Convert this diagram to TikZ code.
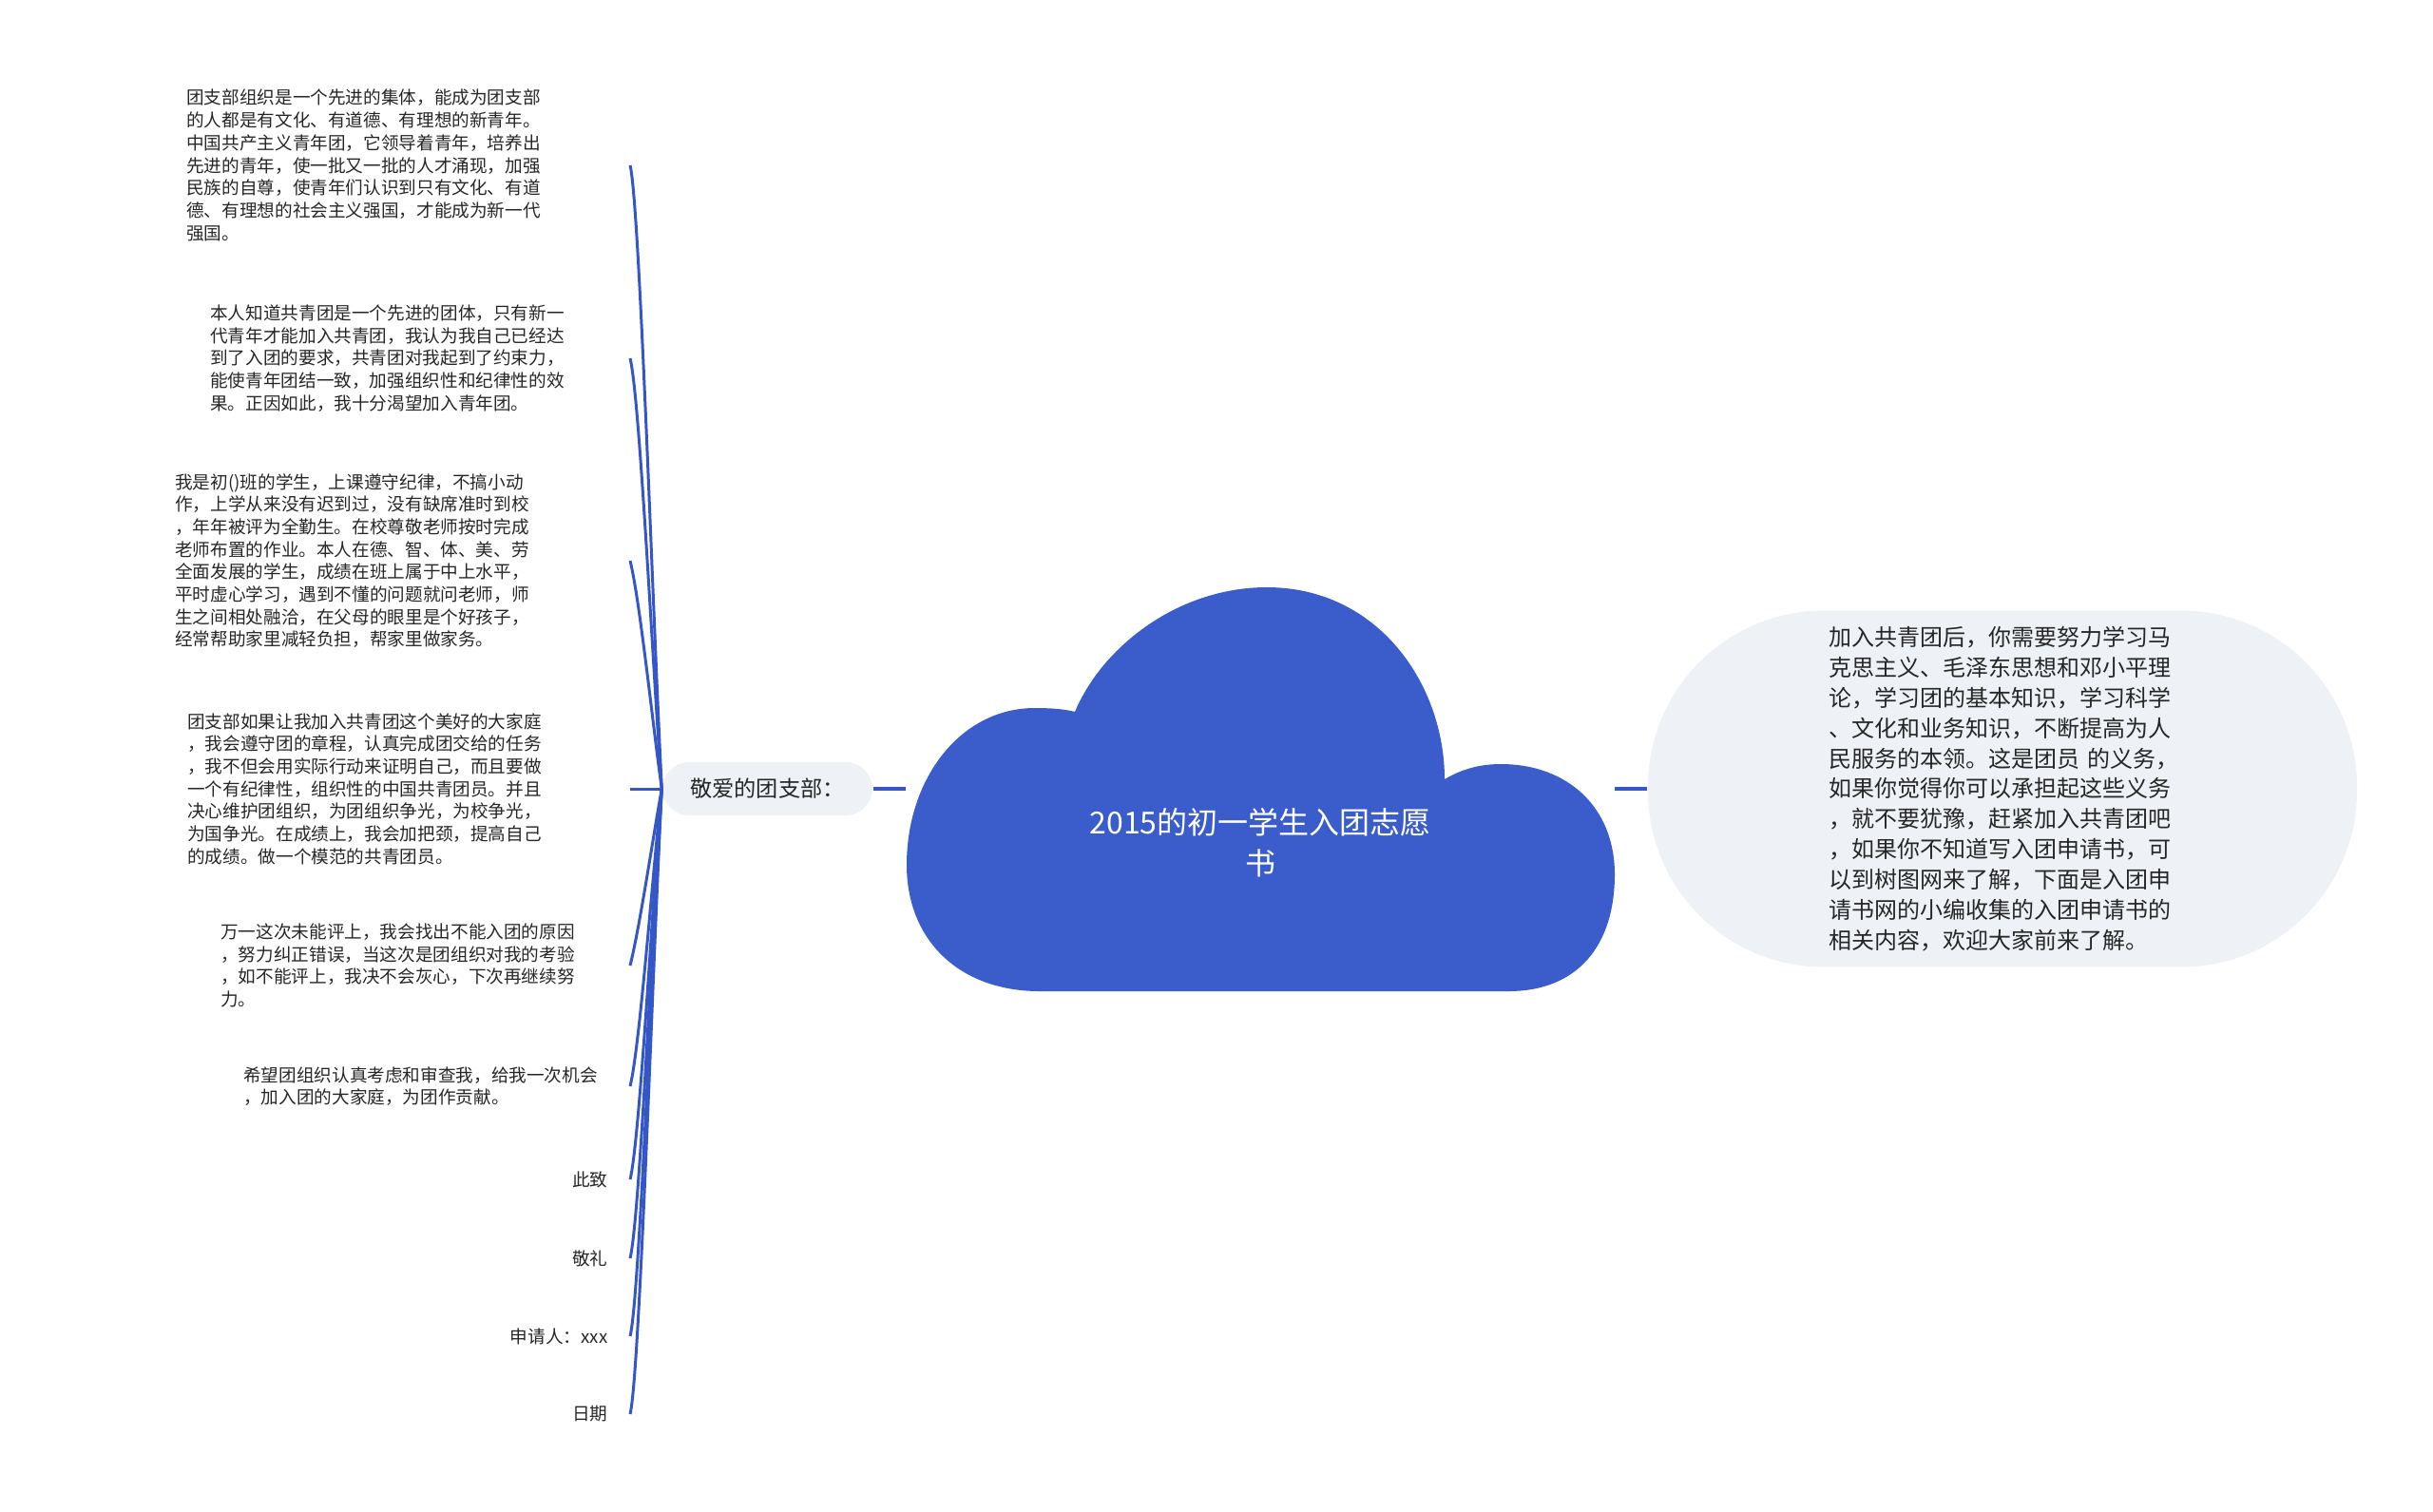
\documentclass[tikz,border=0pt]{standalone}
\usepackage{fontspec}
\setmainfont{Noto Sans CJK SC}
\usepackage{tikz}
\definecolor{cloudblue}{HTML}{3A5DCB}
\definecolor{linkblue}{HTML}{3556C6}
\definecolor{pale}{HTML}{EEF1F5}
\definecolor{ink}{HTML}{262626}
\tikzset{
  branch/.style={draw=linkblue, line width=0.85pt},
  stem/.style={draw=linkblue, line width=1.15pt},
  para/.style={anchor=east, inner sep=0pt, align=left, text=ink, font=\fontsize{5.3}{6.74}\selectfont},
  leaf/.style={anchor=east, inner xsep=0.23cm, inner ysep=0pt, text=ink, font=\fontsize{5.3}{6.74}\selectfont},
  pill/.style={fill=pale, rounded corners=0.28cm, minimum width=2.21cm, minimum height=0.56cm, inner sep=0pt, text=ink, font=\fontsize{6.6}{8}\selectfont},
  blob/.style={fill=pale, rounded corners=1.85cm, minimum width=7.46cm, minimum height=3.75cm, text width=3.66cm, align=left, text=ink, font=\fontsize{6.83}{9.07}\selectfont},
  title/.style={text=white, align=center, font=\fontsize{9.1}{12.3}\selectfont},
}

\begin{document}
\begin{tikzpicture}
\useasboundingbox (0,0) rectangle (25.6,-15.9);

\fill[cloudblue] (10.94,-10.43)
  .. controls (10.10,-10.43) and (9.54,-9.90) .. (9.54,-9.10)
  .. controls (9.54,-8.20) and (10.10,-7.45) .. (10.89,-7.45)
  .. controls (11.05,-7.45) and (11.20,-7.46) .. (11.31,-7.49)
  .. controls (11.60,-6.80) and (12.40,-6.18) .. (13.33,-6.18)
  .. controls (14.50,-6.18) and (15.20,-7.20) .. (15.20,-8.20)
  .. controls (15.40,-8.08) and (15.60,-8.04) .. (15.79,-8.04)
  .. controls (16.50,-8.04) and (16.99,-8.50) .. (16.99,-9.20)
  .. controls (16.99,-9.95) and (16.60,-10.43) .. (15.87,-10.43)
  -- cycle;
\coordinate (cloudL) at (9.53,-8.30);
\coordinate (cloudR) at (16.99,-8.30);
\node[title] (main) at (13.26,-8.87) {2015的初一学生入团志愿\\书};

\node[pill] (dear) at (8.075,-8.30) {敬爱的团支部：};
\node[blob] (intro) at (21.07,-8.30) {加入共青团后，你需要努力学习马\\克思主义、毛泽东思想和邓小平理\\论，学习团的基本知识，学习科学\\、文化和业务知识，不断提高为人\\\mbox{民服务的本领。这是团员 的义务，}\\如果你觉得你可以承担起这些义务\\，就不要犹豫，赶紧加入共青团吧\\，如果你不知道写入团申请书，可\\以到树图网来了解，下面是入团申\\请书网的小编收集的入团申请书的\\相关内容，欢迎大家前来了解。};

\node[para, text width=4.66cm] (group) at (6.63,-1.74) {团支部组织是一个先进的集体，能成为团支部\\的人都是有文化、有道德、有理想的新青年。\\中国共产主义青年团，它领导着青年，培养出\\先进的青年，使一批又一批的人才涌现，加强\\民族的自尊，使青年们认识到只有文化、有道\\德、有理想的社会主义强国，才能成为新一代\\强国。};
\node[para, text width=4.41cm] (know) at (6.63,-3.77) {本人知道共青团是一个先进的团体，只有新一\\代青年才能加入共青团，我认为我自己已经达\\到了入团的要求，共青团对我起到了约束力，\\能使青年团结一致，加强组织性和纪律性的效\\果。正因如此，我十分渴望加入青年团。};
\node[para, text width=4.78cm] (self) at (6.63,-5.90) {我是初()班的学生，上课遵守纪律，不搞小动\\作，上学从来没有迟到过，没有缺席准时到校\\，年年被评为全勤生。在校尊敬老师按时完成\\老师布置的作业。本人在德、智、体、美、劳\\全面发展的学生，成绩在班上属于中上水平，\\平时虚心学习，遇到不懂的问题就问老师，师\\生之间相处融洽，在父母的眼里是个好孩子，\\经常帮助家里减轻负担，帮家里做家务。};
\node[para, text width=4.65cm] (promise) at (6.63,-8.30) {团支部如果让我加入共青团这个美好的大家庭\\，我会遵守团的章程，认真完成团交给的任务\\，我不但会用实际行动来证明自己，而且要做\\一个有纪律性，组织性的中国共青团员。并且\\决心维护团组织，为团组织争光，为校争光，\\为国争光。在成绩上，我会加把颈，提高自己\\的成绩。做一个模范的共青团员。};
\node[para, text width=4.30cm] (retry) at (6.63,-10.16) {万一这次未能评上，我会找出不能入团的原因\\，努力纠正错误，当这次是团组织对我的考验\\，如不能评上，我决不会灰心，下次再继续努\\力。};
\node[para, text width=4.06cm] (hope) at (6.63,-11.43) {希望团组织认真考虑和审查我，给我一次机会\\，加入团的大家庭，为团作贡献。};
\node[leaf] (closing) at (6.63,-12.41) {此致};
\node[leaf] (salute) at (6.63,-13.24) {敬礼};
\node[leaf] (signer) at (6.63,-14.06) {申请人：xxx};
\node[leaf] (date) at (6.63,-14.88) {日期};

\draw[stem] (dear.east) -- (cloudL);
\draw[stem] (cloudR) -- (intro.west);

\draw[branch] (dear.west) .. controls +(-0.1,1.97) and +(0.1,-0.4) .. (group.east);
\draw[branch] (dear.west) .. controls +(-0.1,1.36) and +(0.1,-0.4) .. (know.east);
\draw[branch] (dear.west) .. controls +(-0.1,0.72) and +(0.1,-0.4) .. (self.east);
\draw[branch] (dear.west) -- (promise.east);
\draw[branch] (dear.west) .. controls +(-0.1,-0.56) and +(0.1,0.4) .. (retry.east);
\draw[branch] (dear.west) .. controls +(-0.1,-0.94) and +(0.1,0.4) .. (hope.east);
\draw[branch] (dear.west) .. controls +(-0.1,-1.23) and +(0.1,0.4) .. (closing.east);
\draw[branch] (dear.west) .. controls +(-0.1,-1.48) and +(0.1,0.4) .. (salute.east);
\draw[branch] (dear.west) .. controls +(-0.1,-1.73) and +(0.1,0.4) .. (signer.east);
\draw[branch] (dear.west) .. controls +(-0.1,-1.97) and +(0.1,0.4) .. (date.east);
\end{tikzpicture}
\end{document}
